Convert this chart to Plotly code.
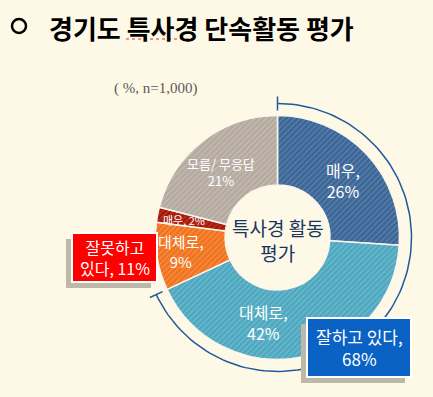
import math
import plotly.graph_objects as go

# ---- data ----
slice_names = ["매우", "대체로", "대체로", "매우", "모름/ 무응답"]
slice_groups = ["잘하고 있다", "잘하고 있다", "잘못하고 있다", "잘못하고 있다", "모름/무응답"]
slice_values = [26, 42, 9, 2, 21]
title_text = "경기도 특사경 단속활동 평가"
note_text = "( %, n=1,000)"
center_text = "특사경 활동<br>평가"
good_label = "잘하고 있다"
bad_label = "잘못하고 있다"

# ---- style ----
W, H = 433, 397
BG = "#FEF8E7"
colors = ["#3B6595", "#4CA7BF", "#F0721C", "#A3180A", "#B3A99E"]
stripe = ["#6F93BD", "#86C7D8", "#F8A060", "#CC4A30", "#D2CAC0"]
CX, CY, R, HOLE = 277.5, 237.5, 122.0, 0.43
# label placement: (radius px, angle offset deg, font size, separator)
label_style = [(87, 2, 16, ",<br>"), (86, 20, 16, ",<br>"), (97, 1, 15, ",<br>"),
               (95, 0, 11, ", "), (86, -3, 13, "<br>")]

total = sum(slice_values)
good_total = sum(v for v, g in zip(slice_values, slice_groups) if g == good_label)
bad_total = sum(v for v, g in zip(slice_values, slice_groups) if g == bad_label)

fig = go.Figure()

fig.add_trace(go.Pie(
    labels=[f"{g} {n}" for g, n in zip(slice_groups, slice_names)],
    values=slice_values,
    sort=False, direction="clockwise", rotation=0,
    hole=HOLE, textinfo="none", hoverinfo="skip", showlegend=False,
    marker=dict(colors=colors, line=dict(color="#FBF6EC", width=1.5),
                pattern=dict(shape="/", bgcolor=colors, fgcolor=stripe, fgopacity=0.6,
                             size=4, solidity=0.35)),
    domain=dict(x=[(CX - R) / W, (CX + R) / W], y=[1 - (CY + R) / H, 1 - (CY - R) / H]),
))

def polar(r, deg):
    a = math.radians(deg)
    return CX + r * math.sin(a), CY - r * math.cos(a)

# arc showing "잘하고 있다" share
end_deg = 360.0 * good_total / total
RA = 134
pts = [polar(RA, end_deg * i / 120) for i in range(121)]
fig.add_trace(go.Scatter(x=[p[0] for p in pts], y=[p[1] for p in pts], mode="lines",
                         line=dict(color="#1E5A9C", width=1.5), hoverinfo="skip", showlegend=False))
for d in (0, end_deg):
    a, b = polar(127, d), polar(141, d)
    fig.add_trace(go.Scatter(x=[a[0], b[0]], y=[a[1], b[1]], mode="lines",
                             line=dict(color="#1E5A9C", width=1.5), hoverinfo="skip", showlegend=False))

annotations = []
shapes = []

# slice labels
cum = 0
for name, v, (rr, off, fs, sep) in zip(slice_names, slice_values, label_style):
    mid = 360.0 * (cum + v / 2) / total
    cum += v
    x, y = polar(rr, mid + off)
    annotations.append(dict(x=x, y=y, xref="x", yref="y", showarrow=False,
                            text=f"{name}{sep}{v}%", align="center", borderpad=0,
                            font=dict(family="Noto Sans CJK KR", size=fs, color="white")))

# centre text
annotations.append(dict(x=CX, y=CY + 2, xref="x", yref="y", showarrow=False, text=center_text,
                        align="center", font=dict(family="Noto Sans CJK KR", size=19, color="#17365D")))

# callout boxes
def callout(x0, y0, x1, y1, fill, text, fs):
    shapes.append(dict(type="rect", xref="x", yref="y", x0=x0 - 6, y0=y0 + 6, x1=x1 - 6, y1=y1 + 6,
                       fillcolor="#BDB8A8", line=dict(width=0), layer="above"))
    shapes.append(dict(type="rect", xref="x", yref="y", x0=x0, y0=y0, x1=x1, y1=y1,
                       fillcolor=fill, line=dict(color="white", width=2), layer="above"))
    annotations.append(dict(x=(x0 + x1) / 2, y=(y0 + y1) / 2, xref="x", yref="y", showarrow=False,
                            text=text, align="center", borderpad=0,
                            font=dict(family="Noto Sans CJK KR", size=fs, color="white")))

callout(307, 318, 411, 377, "#0A62C4", f"{good_label},<br>{good_total}%", 17)
callout(72, 233, 157, 282, "#FF0000", f"잘못하고<br>있다, {bad_total}%", 16)

# title
shapes.append(dict(type="circle", xref="x", yref="y", x0=12, y0=19, x1=26, y1=33,
                   line=dict(color="black", width=2.5)))
annotations.append(dict(x=47, y=27, xref="x", yref="y", xanchor="left", showarrow=False,
                        text=f"<b>{title_text}</b>",
                        font=dict(family="Noto Sans CJK KR", size=26, color="black")))
shapes.append(dict(type="line", xref="x", yref="y", x0=126, y0=39, x1=193, y1=39,
                   line=dict(color="#E03020", width=1, dash="dot")))

annotations.append(dict(x=112, y=88, xref="x", yref="y", xanchor="left", showarrow=False,
                        text=note_text, font=dict(family="Liberation Serif", size=15, color="#5A5A5A")))

fig.update_layout(
    width=W, height=H, autosize=False,
    margin=dict(l=0, r=0, t=0, b=0),
    paper_bgcolor=BG, plot_bgcolor=BG,
    xaxis=dict(range=[0, W], visible=False, fixedrange=True, domain=[0, 1]),
    yaxis=dict(range=[H, 0], visible=False, fixedrange=True, domain=[0, 1]),
    annotations=annotations, shapes=shapes,
)

fig.write_html("out.html", config=dict(displayModeBar=False),
               post_script="document.body.style.margin='0';document.body.style.overflow='hidden';")
